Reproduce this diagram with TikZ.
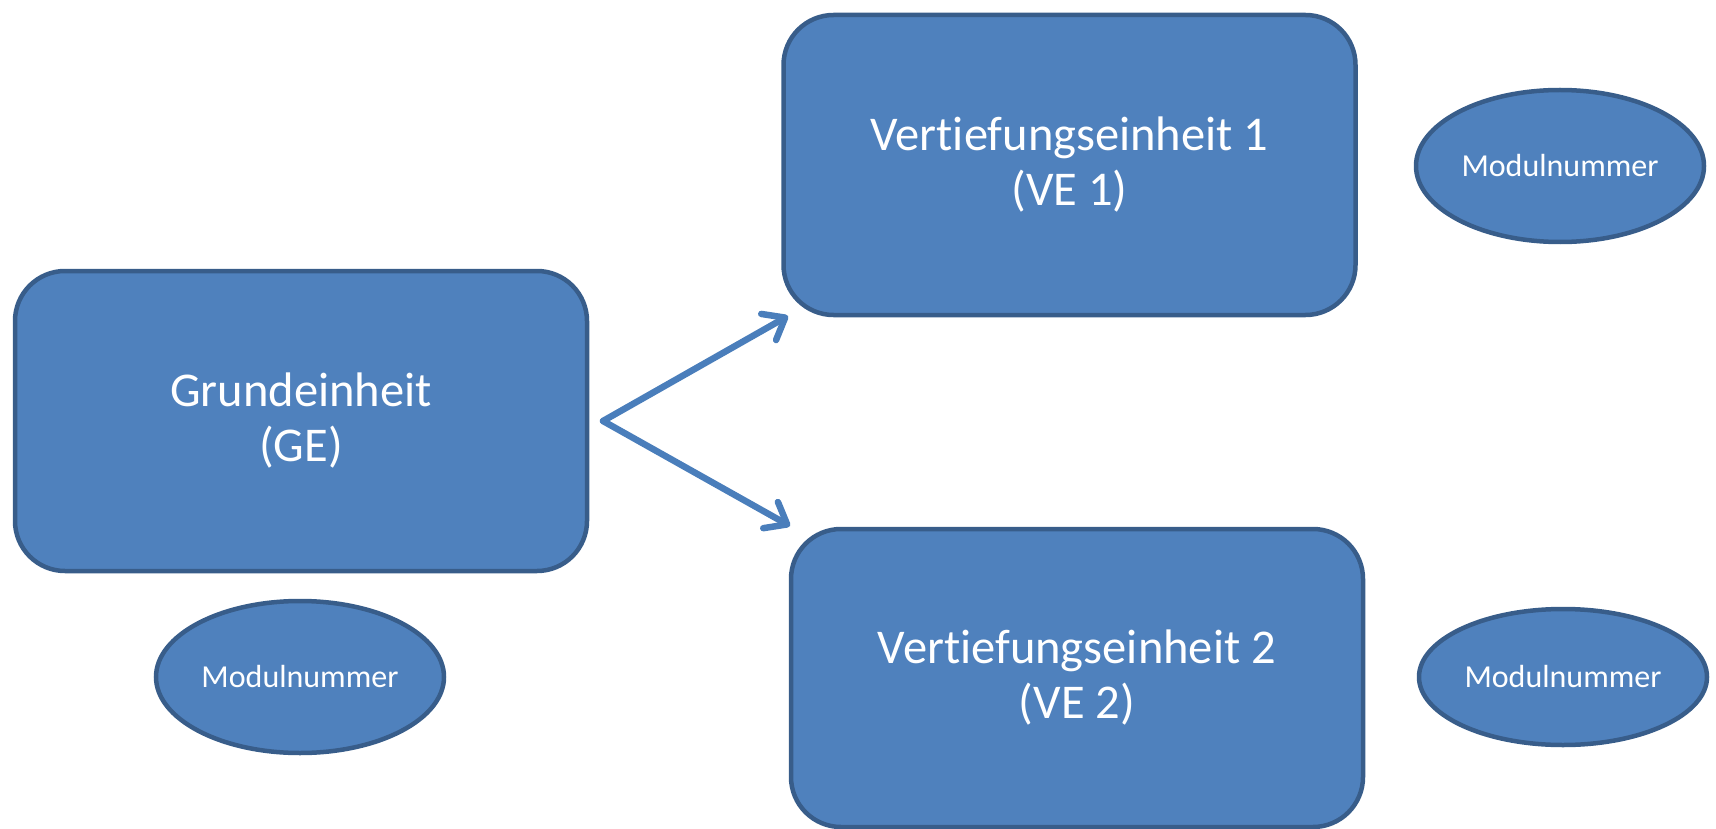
\documentclass[tikz,border=0pt]{standalone}
\usepackage{fontspec}
\setmainfont{Carlito}[RawFeature={-liga;-clig;-calt;-dlig}]
\usetikzlibrary{arrows.meta,shapes.geometric}
\definecolor{boxfill}{HTML}{4F81BD}
\definecolor{boxline}{HTML}{385D8A}
\definecolor{arrowcol}{HTML}{4A7EBB}
\begin{document}
\begin{tikzpicture}[x=1pt,y=-1pt,
  unit/.style={draw=boxline, fill=boxfill, line width=4.5pt, rounded corners=50pt,
    text=white, align=center, font=\fontsize{48.5}{55}\selectfont, inner sep=0pt,
    minimum width=572pt, minimum height=300pt},
  modnr/.style={ellipse, draw=boxline, fill=boxfill, line width=4.5pt, text=white,
    font=\fontsize{32}{38}\selectfont, inner sep=0pt,
    minimum width=288pt, minimum height=152pt},
  flow/.style={draw=arrowcol, line width=6.5pt, line cap=round,
    -{Straight Barb[length=19pt,width=30pt,line cap=round,line join=round]}}]
\useasboundingbox (0,0) rectangle (1716,829);
\node[unit] (ge) at (301,421) {Grundeinheit\\(GE)};
\node[unit] (ve1) at (1069.5,165) {Vertiefungseinheit 1\\(VE 1)};
\node[unit, minimum height=298pt] (ve2) at (1077,678) {Vertiefungseinheit 2\\(VE 2)};
\node[modnr] (m1) at (1560,166) {Modulnummer};
\node[modnr] (mge) at (300,677) {Modulnummer};
\node[modnr, minimum height=136pt] (m2) at (1563,677) {Modulnummer};
\coordinate (fork) at (603,421);
\coordinate (tip1) at (788,316);
\coordinate (tip2) at (790,526);
\draw[flow] (fork) -- (tip1);
\draw[flow] (fork) -- (tip2);
\end{tikzpicture}
\end{document}
